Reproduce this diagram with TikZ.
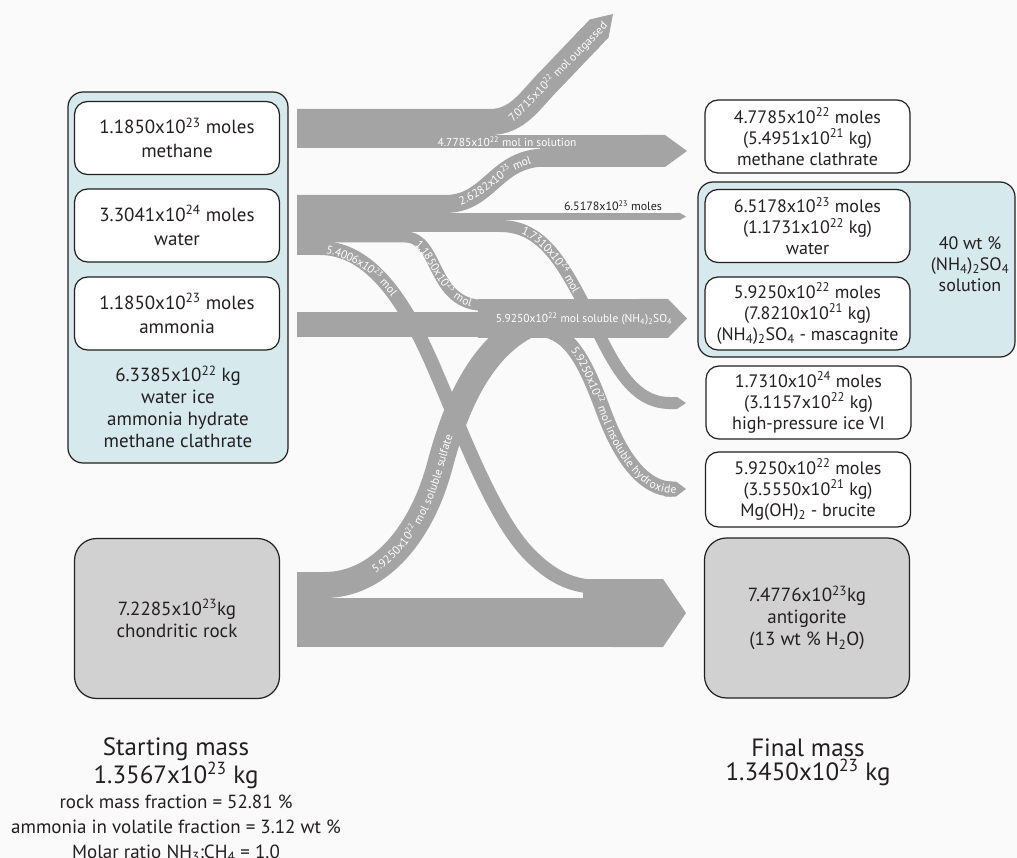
\documentclass[tikz,border=0pt]{standalone}
\usepackage{fontspec}
\setmainfont{PT Sans}
\usetikzlibrary{arrows.meta,decorations.text}

\definecolor{bandgray}{RGB}{164,164,164}
\definecolor{iceblue}{RGB}{214,234,237}
\definecolor{rockgray}{RGB}{209,209,209}
\definecolor{inkcol}{RGB}{35,31,32}
\definecolor{pagecol}{RGB}{250,250,250}

\newcommand\sps[1]{\textsuperscript{#1}}
\newcommand\sbs[1]{\textsubscript{#1}}
\newcommand\flowfont{\fontsize{11.5}{13}\selectfont}

\tikzset{
  band/.style={draw=bandgray, line width=#1},
  tipped/.style={-{Triangle Cap[length=#1]}},
  flowtext/.style={decorate, decoration={text along path, text align=center,
      raise=-4pt, text={|\flowfont\color{white}|#1}}},
  flowlabel/.style={text=white, font=\flowfont, inner sep=0pt},
  molbox/.style={draw=inkcol, line width=1.2pt, fill=white, rounded corners=13pt,
      minimum width=205pt, minimum height=73pt, inner sep=0pt, align=center,
      text=inkcol, font=\fontsize{18}{21}\selectfont},
  feedbox/.style={molbox, font=\fontsize{19}{24}\selectfont},
  rockbox/.style={molbox, fill=rockgray, rounded corners=22pt, minimum height=160pt,
      font=\fontsize{19}{22}\selectfont},
  icepanel/.style={draw=inkcol, line width=1.2pt, fill=iceblue, rounded corners=15pt, inner sep=0pt},
  masstext/.style={text=inkcol, align=center, inner sep=0pt}
}

\begin{document}
\begin{tikzpicture}[x=1pt, y=-1pt]
  \useasboundingbox (0,0) rectangle (1017,858);
  \fill[pagecol] (0,0) rectangle (1017,858);

  % starting material
  \node[icepanel, minimum width=220pt, minimum height=371pt] (vpanel) at (178,277.5) {};
  \node[feedbox] (ch4) at (177,138) {1.1850x10\sps{23} moles\\methane};
  \node[feedbox] (h2o) at (177,225.5) {3.3041x10\sps{24} moles\\water};
  \node[feedbox] (nh3) at (177,313.5) {1.1850x10\sps{23} moles\\ammonia};
  \node[masstext, font=\fontsize{19}{22}\selectfont] (volat) at (178,407)
    {6.3385x10\sps{22} kg\\water ice\\ammonia hydrate\\methane clathrate};
  \node[rockbox] (rock) at (177,618.5) {7.2285x10\sps{23}kg\\chondritic rock};

  % products
  \node[molbox] (clat) at (807.5,136.5) {4.7785x10\sps{22} moles\\(5.4951x10\sps{21} kg)\\methane clathrate};
  \node[icepanel, minimum width=317pt, minimum height=175pt] (spanel) at (856.5,269.5) {};
  \node[molbox] (water) at (807.5,226) {6.5178x10\sps{23} moles\\(1.1731x10\sps{22} kg)\\water};
  \node[molbox] (masc) at (807.5,313.5) {5.9250x10\sps{22} moles\\(7.8210x10\sps{21} kg)\\(NH\sbs{4})\sbs{2}SO\sbs{4} - mascagnite};
  \node[masstext, font=\fontsize{18}{21}\selectfont] (soln) at (970,264) {40 wt \%\\(NH\sbs{4})\sbs{2}SO\sbs{4}\\solution};
  \node[molbox] (icevi) at (808.5,402.5) {1.7310x10\sps{24} moles\\(3.1157x10\sps{22} kg)\\high-pressure ice VI};
  \node[molbox, minimum height=75pt] (bruc) at (808,489.5) {5.9250x10\sps{22} moles\\(3.5550x10\sps{21} kg)\\Mg(OH)\sbs{2} - brucite};
  \node[rockbox] (antg) at (807,618) {7.4776x10\sps{23}kg\\antigorite\\(13 wt \% H\sbs{2}O)};

  % band ends
  \coordinate (ch4a) at (297,122);
  \coordinate (ch4b) at (297,141.5);
  \coordinate (h2oa) at (297,204);
  \coordinate (h2ob) at (297,216.5);
  \coordinate (h2oc) at (297,226);
  \coordinate (h2od) at (297,237);
  \coordinate (h2oe) at (297,248);
  \coordinate (nh3a) at (297,324.5);
  \coordinate (rka) at (297,585);
  \coordinate (rkb) at (297,622.5);
  \coordinate (cltj) at (540,151);
  \coordinate (sulj) at (478,318.5);
  \coordinate (antj) at (583,613);
  \coordinate (gas) at (613,14);
  \coordinate (clt) at (687,151);
  \coordinate (liq) at (686,216.5);
  \coordinate (sul) at (687,318.5);
  \coordinate (ice) at (686,403);
  \coordinate (bru) at (686,489);
  \coordinate (ant) at (686,613);

  % flows
  \draw[band=49] (rkb) -- (600,622.5);
  \draw[band=68, tipped=23pt] (antj) -- (ant);
  \draw[band=26] (rka) -- (325,585) .. controls (375,585) and (420,540) .. (440,465)
    .. controls (452,420) and (475,350) .. (530,324);
  \draw[band=14] (h2oe) -- (320,248) .. controls (370,248) and (405,300) .. (435,370)
    .. controls (465,440) and (495,520) .. (530,555) .. controls (550,575) and (570,587) .. (600,587);
  \draw[band=25] (nh3a) -- (482,324.5);
  \draw[band=11] (h2od) -- (405,237) .. controls (440,237) and (430,305.5) .. (485,305.5);
  \draw[band=39, tipped=19pt] (sulj) -- (sul);
  \draw[band=15, tipped=10pt] (545,330) .. controls (575,335) and (590,375) .. (605,415)
    .. controls (622,460) and (645,489) .. (672,489) -- (bru);
  \draw[band=12, tipped=9pt] (h2oc) -- (500,226) .. controls (542,226) and (562,262) .. (588,312)
    .. controls (612,360) and (630,403) .. (670,403) -- (ice);
  \draw[band=7, tipped=6pt] (h2ob) -- (liq);
  \draw[band=18] (h2oa) -- (445,204) .. controls (490,204) and (495,157.5) .. (546,157.5);
  \draw[band=13] (ch4b) -- (546,141.5);
  \draw[band=32, tipped=22pt] (cltj) -- (clt);
  \draw[band=26, tipped=20pt] (ch4a) -- (490,122) .. controls (518,122) and (530,100) .. (550,80) -- (gas);

  % flow labels
  \node[flowlabel, rotate=45.5] (lgas) at (558,72) {7.0715x10\sps{22} mol outgassed};
  \node[flowlabel] (lsol) at (507,142) {4.7785x10\sps{22} mol in solution};
  \path[flowtext={2.6282x10{\sps{23}} mol}] (440,204) .. controls (490,204) and (495,157.5) .. (550,157.5);
  \node[masstext, font=\fontsize{12}{14}\selectfont] (lliq) at (613,206) {6.5178x10\sps{23} moles};
  \path[flowtext={5.4006x10{\sps{23}} mol}] (308,248) .. controls (353,248) and (385,275) .. (405,310);
  \path[flowtext={1.1850x10{\sps{23}} mol}] (400,237) .. controls (440,237) and (430,305.5) .. (490,305.5);
  \path[flowtext={1.7310x10{\sps{24}} mol}] (500,226) .. controls (542,226) and (562,262) .. (588,312);
  \node[flowlabel] (lsul) at (584,319) {5.9250x10\sps{22} mol soluble (NH\sbs{4})\sbs{2}SO\sbs{4}};
  \path[flowtext={5.9250x10{\sps{22}} mol soluble sulfate}] (325,585) .. controls (375,585) and (420,540) .. (440,465)
    .. controls (446,442.5) and (455,414) .. (469,388);
  \path[flowtext={5.9250x10{\sps{22}} mol insoluble hydroxide}] (570,344) .. controls (585,360) and (594.5,387) .. (605,415)
    .. controls (622,460) and (645,489) .. (672,489) -- (682,489);

  % totals
  \node[masstext, font=\fontsize{25}{23}\selectfont] (start) at (176,763) {Starting mass\\1.3567x10\sps{23} kg};
  \node[masstext, font=\fontsize{19}{25}\selectfont] (ratios) at (176,828)
    {rock mass fraction = 52.81 \%\\ammonia in volatile fraction = 3.12 wt \%\\Molar ratio NH\sbs{3}:CH\sbs{4} = 1.0};
  \node[masstext, font=\fontsize{25}{24}\selectfont] (final) at (808,762) {Final mass\\1.3450x10\sps{23} kg};
\end{tikzpicture}
\end{document}
